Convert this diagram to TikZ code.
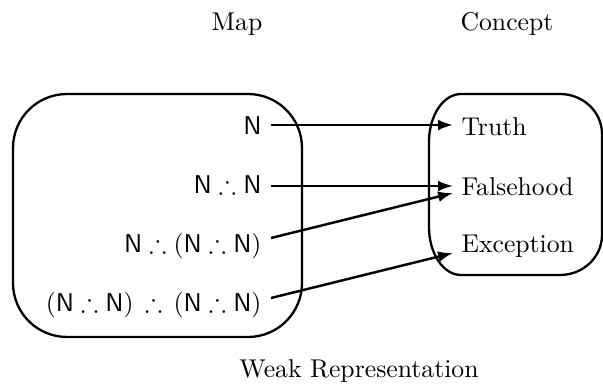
\documentclass[tikz,border=0pt]{standalone}
\usepackage{amssymb}
\usetikzlibrary{arrows.meta,calc}
\begin{document}
\begin{tikzpicture}[x=0.389pt,y=-0.389pt,
  boxline/.style={line width=0.9pt},
  arr/.style={line width=0.95pt,-{Latex[length=5.8pt,width=4.2pt]}},
  lbl/.style={inner sep=0pt,anchor=base east,font=\normalsize},
  rlbl/.style={inner sep=0pt,anchor=base west},
  ttl/.style={inner sep=0pt,anchor=base}]
\useasboundingbox (0,0) rectangle (603,389);
% titles
\node[ttl] (map) at (237,30) {Map};
\node[ttl] (concept) at (507,30) {Concept};
\node[ttl] (weak) at (359,377) {Weak Representation};
% boxes
\draw[boxline,rounded corners=21pt] (13,94) rectangle (302,337);
\draw[boxline] (429,142) .. controls (429,115.5) and (443.3,94) .. (461,94)
  -- (560,94) .. controls (583.2,94) and (602,111.9) .. (602,134)
  -- (602,235) .. controls (602,257.1) and (583.2,275) .. (560,275)
  -- (461,275) .. controls (443.3,275) and (429,253.5) .. (429,227) -- cycle;
% left labels
\node[lbl] (l1) at (262,134) {$\mathsf{N}$};
\node[lbl] (l2) at (262,194) {$\mathsf{N}\therefore\mathsf{N}$};
\node[lbl] (l3) at (262,252) {$\mathsf{N}\therefore(\mathsf{N}\therefore\mathsf{N})$};
\node[lbl] (l4) at (262,311) {$(\mathsf{N}\therefore\mathsf{N})\,\therefore\,(\mathsf{N}\therefore\mathsf{N})$};
% right labels
\node[rlbl] (truth) at (461,135) {Truth};
\node[rlbl] (false) at (461,195) {Falsehood};
\node[rlbl] (exc) at (461,253) {Exception};
% arrows
\draw[arr] ($(l1.base east)+(9,-9)$) -- ($(truth.base west)+(-8,-10)$);
\draw[arr] ($(l2.base east)+(9,-8)$) -- ($(false.base west)+(-8,-9)$);
\draw[arr] ($(l3.base east)+(9,-14)$) -- ($(false.base west)+(-8,-2)$);
\draw[arr] ($(l4.base east)+(9,-13)$) -- ($(exc.base west)+(-8,0)$);
\end{tikzpicture}
\end{document}
